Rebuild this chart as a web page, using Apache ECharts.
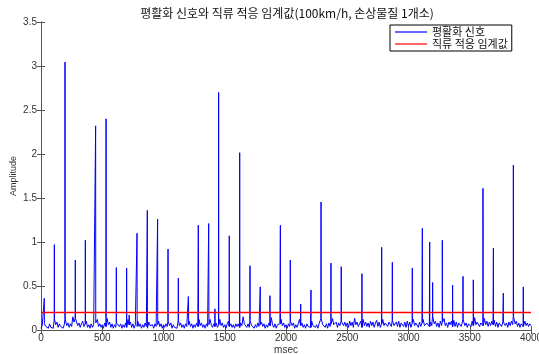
<!DOCTYPE html>
<html>
<head>
<meta charset="utf-8">
<script src="https://cdn.jsdelivr.net/npm/echarts@6/dist/echarts.min.js"></script>
<style>
  html, body { margin: 0; padding: 0; background: #fff; }
  #chart { width: 539px; height: 354px; }
</style>
</head>
<body>
<div id="chart"></div>
<script>
// Smoothed signal baseline, one value every 10 msec (0 .. 4000)
const baseStep = 10;
const baseline = [
  0.02,0.05,0.03,0.07,0.04,0.06,0.02,0.07,0.03,0.05,
  0.02,0.125,0.06,0.09,0.03,0.07,0.04,0.06,0.02,0.06,
  0.12,0.05,0.08,0.03,0.07,0.04,0.15,0.09,0.13,0.14,
  0.05,0.08,0.03,0.07,0.10,0.04,0.07,0.10,0.03,0.06,
  0.02,0.07,0.03,0.06,0.04,0.08,0.12,0.04,0.07,0.03,
  0.06,0.02,0.08,0.04,0.13,0.06,0.09,0.03,0.07,0.02,
  0.06,0.03,0.08,0.10,0.04,0.07,0.02,0.06,0.03,0.08,
  0.03,0.12,0.06,0.09,0.03,0.07,0.02,0.06,0.04,0.10,
  0.04,0.07,0.02,0.06,0.03,0.08,0.04,0.02,0.09,0.05,
  0.03,0.06,0.02,0.07,0.04,0.06,0.10,0.04,0.07,0.02,
  0.06,0.03,0.07,0.04,0.10,0.05,0.08,0.02,0.06,0.03,
  0.05,0.02,0.11,0.05,0.08,0.03,0.06,0.02,0.07,0.04,
  0.06,0.10,0.04,0.07,0.02,0.06,0.03,0.08,0.04,0.12,
  0.05,0.08,0.03,0.06,0.02,0.07,0.04,0.06,0.12,0.06,
  0.03,0.07,0.04,0.08,0.03,0.06,0.12,0.05,0.08,0.03,
  0.06,0.02,0.07,0.10,0.04,0.07,0.03,0.06,0.02,0.07,
  0.04,0.07,0.03,0.08,0.05,0.15,0.07,0.09,0.03,0.07,
  0.03,0.10,0.05,0.07,0.02,0.06,0.03,0.08,0.04,0.06,
  0.09,0.04,0.07,0.02,0.06,0.03,0.08,0.05,0.14,0.06,
  0.03,0.07,0.02,0.06,0.04,0.07,0.12,0.05,0.08,0.03,
  0.06,0.02,0.07,0.04,0.10,0.05,0.08,0.02,0.06,0.03,
  0.07,0.12,0.05,0.08,0.03,0.06,0.02,0.07,0.04,0.06,
  0.03,0.10,0.05,0.07,0.03,0.06,0.02,0.07,0.05,0.13,
  0.06,0.08,0.03,0.07,0.02,0.08,0.04,0.07,0.13,0.06,
  0.04,0.09,0.03,0.08,0.05,0.10,0.11,0.05,0.09,0.04,
  0.08,0.03,0.10,0.05,0.09,0.03,0.135,0.06,0.09,0.04,
  0.07,0.10,0.03,0.12,0.05,0.09,0.04,0.08,0.03,0.10,
  0.05,0.09,0.03,0.08,0.11,0.04,0.09,0.03,0.07,0.12,
  0.05,0.08,0.10,0.04,0.09,0.11,0.04,0.11,0.05,0.03,
  0.09,0.04,0.10,0.03,0.08,0.10,0.04,0.09,0.03,0.10,
  0.04,0.09,0.03,0.08,0.12,0.05,0.08,0.10,0.03,0.09,
  0.04,0.08,0.12,0.05,0.03,0.08,0.10,0.04,0.09,0.05,
  0.15,0.07,0.10,0.04,0.08,0.03,0.10,0.05,0.09,0.13,
  0.05,0.08,0.03,0.09,0.06,0.10,0.04,0.11,0.04,0.09,
  0.03,0.08,0.10,0.04,0.09,0.12,0.05,0.08,0.03,0.07,
  0.09,0.04,0.10,0.05,0.14,0.06,0.09,0.11,0.04,0.08,
  0.10,0.05,0.13,0.06,0.10,0.04,0.09,0.05,0.10,0.06,
  0.11,0.04,0.09,0.03,0.08,0.10,0.04,0.09,0.11,0.05,
  0.08,0.03,0.09,0.05,0.10,0.06,0.15,0.07,0.10,0.04,
  0.08,0.03,0.07,0.09,0.04,0.10,0.05,0.08,0.04,0.07,
  0.05
];

// Impulse peaks: time (msec), peak amplitude, amplitude of the following sample (0 = none)
const spikeTimes = [27,109,196,280,362,446,531,615,699,720,784,868,952,1037,1121,1203,1284,1369,1420,1450,
  1537,1622,1706,1790,1869,1954,2035,2120,2204,2286,2367,2451,2620,2781,2868,3031,3113,3173,3197,3276,
  3360,3445,3529,3608,3693,3774,3856,3937];
const spikePeaks = [0.36,0.97,3.045,0.795,1.02,2.32,2.40,0.71,0.705,0.17,1.10,1.36,1.26,0.92,0.59,0.38,1.19,1.21,0.24,2.70,
  1.07,2.015,0.73,0.49,0.39,1.19,0.795,0.295,0.455,1.455,0.76,0.72,0.64,0.94,0.77,0.705,1.155,1.0,0.54,1.02,
  0.51,0.61,0.57,1.61,0.93,0.42,1.875,0.49];
const spikeSeconds = [0,0,0.27,0,0,0,0,0,0,0,0,0,0,0,0,0.32,0.97,0.62,0,0.21,
  0,0,0,0,0.20,0.19,0,0,0,0,0,0,0,0,0,0,0,0,0,0.51,
  0,0,0.28,0.80,0,0,0.636,0];

// DC adaptive threshold level
const thresholdLevel = 0.2;

// Axis ranges and tick labels
const xTicks = [0,500,1000,1500,2000,2500,3000,3500,4000];
const yTicks = [0,0.5,1,1.5,2,2.5,3,3.5];

const titleText = '평활화 신호와 직류 적응 임계값(100km/h, 손상물질 1개소)';
const seriesNames = ['평활화 신호', '직류 적응 임계값'];

// Merge baseline samples and impulses into one time-ordered signal
const points = new Map();
baseline.forEach((v, i) => points.set(i * baseStep, v));
spikeTimes.forEach((t, k) => {
  const b = baseline[Math.round(t / baseStep)];
  for (let d = -2; d <= 2; d++) points.delete(t + d);
  points.set(t - 1, b);
  points.set(t, spikePeaks[k]);
  if (spikeSeconds[k] > 0) {
    points.set(t + 1, spikeSeconds[k]);
    points.set(t + 2, b);
  } else {
    points.set(t + 1, b);
  }
});
const signalData = Array.from(points.entries()).sort((a, b) => a[0] - b[0]);
const thresholdData = [[xTicks[0], thresholdLevel], [xTicks[xTicks.length - 1], thresholdLevel]];

const font = '"Liberation Sans", Arial, sans-serif';
const cjkFont = '"Noto Sans CJK KR", sans-serif';
const axisColor = '#555';
const labelColor = '#333';

const chart = echarts.init(document.getElementById('chart'), null, { renderer: 'canvas' });
chart.setOption({
  animation: false,
  backgroundColor: '#ffffff',
  title: {
    text: titleText,
    left: 282,
    top: 2,
    textAlign: 'center',
    textStyle: { fontFamily: cjkFont, fontSize: 12, fontWeight: 'normal', color: '#111' }
  },
  legend: {
    orient: 'vertical',
    left: 390,
    top: 25,
    padding: [1, 4, 1, 5],
    itemGap: 0,
    itemWidth: 32,
    itemHeight: 1.2,
    icon: 'rect',
    backgroundColor: '#fff',
    borderColor: '#000',
    borderWidth: 1,
    borderRadius: 0,
    data: seriesNames,
    textStyle: { fontFamily: cjkFont, fontSize: 11, lineHeight: 12, color: '#111' }
  },
  grid: { left: 41, right: 8, top: 22, bottom: 24, containLabel: false, outerBoundsMode: 'none' },
  xAxis: [{
    type: 'value',
    min: xTicks[0], max: xTicks[xTicks.length - 1], interval: 500,
    name: 'msec', nameLocation: 'middle', nameGap: 20, nameMoveOverlap: false,
    nameTextStyle: { fontFamily: font, fontSize: 10, color: labelColor, verticalAlign: 'middle', lineHeight: 10 },
    axisLine: { show: true, onZero: false, lineStyle: { color: axisColor, width: 1 } },
    axisTick: { show: true, inside: true, length: 4, lineStyle: { color: axisColor } },
    axisLabel: { fontFamily: font, fontSize: 10, color: labelColor, margin: 3, formatter: v => String(v) },
    splitLine: { show: false }
  }, {
    type: 'value', position: 'top',
    min: xTicks[0], max: xTicks[xTicks.length - 1], interval: 500,
    axisLine: { show: true, lineStyle: { color: axisColor, width: 1 } },
    axisTick: { show: true, inside: true, length: 4, lineStyle: { color: axisColor } },
    axisLabel: { show: false },
    splitLine: { show: false }
  }],
  yAxis: [{
    type: 'value',
    min: yTicks[0], max: yTicks[yTicks.length - 1], interval: 0.5,
    name: 'Amplitude', nameLocation: 'middle', nameGap: 23, nameRotate: 90, nameMoveOverlap: false,
    nameTextStyle: { fontFamily: font, fontSize: 9, color: labelColor },
    axisLine: { show: true, onZero: false, lineStyle: { color: axisColor, width: 1 } },
    axisTick: { show: true, inside: true, length: 4, lineStyle: { color: axisColor } },
    axisLabel: { fontFamily: font, fontSize: 10, color: labelColor, margin: 4, formatter: v => String(v) },
    splitLine: { show: false }
  }, {
    type: 'value', position: 'right',
    min: yTicks[0], max: yTicks[yTicks.length - 1], interval: 0.5,
    axisLine: { show: true, lineStyle: { color: axisColor, width: 1 } },
    axisTick: { show: true, inside: true, length: 4, lineStyle: { color: axisColor } },
    axisLabel: { show: false },
    splitLine: { show: false }
  }],
  series: [{
    name: seriesNames[0],
    type: 'line',
    data: signalData,
    symbol: 'none',
    showSymbol: false,
    lineStyle: { color: '#0000ff', width: 1 },
    itemStyle: { color: '#0000ff' },
    z: 2
  }, {
    name: seriesNames[1],
    type: 'line',
    data: thresholdData,
    symbol: 'none',
    showSymbol: false,
    lineStyle: { color: '#ff0000', width: 1.5 },
    itemStyle: { color: '#ff0000' },
    z: 3
  }]
});
</script>
</body>
</html>
